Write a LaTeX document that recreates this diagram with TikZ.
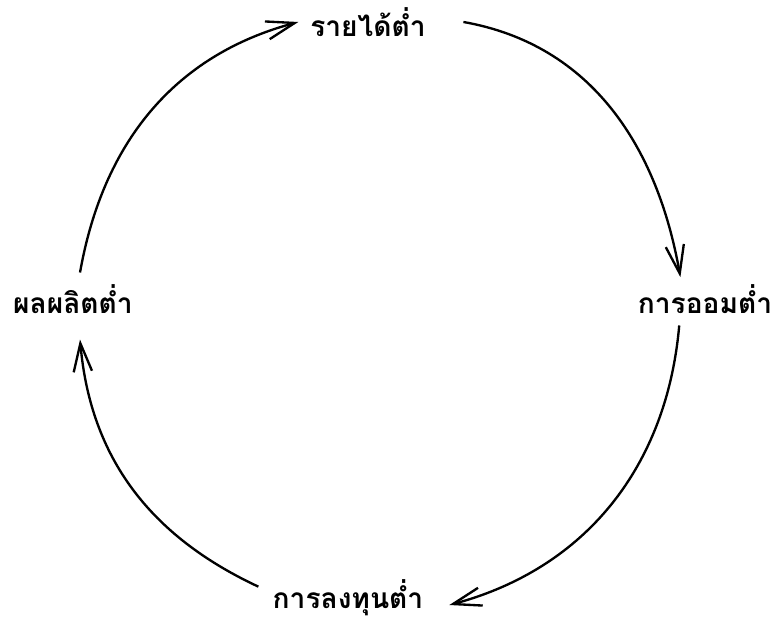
\documentclass[tikz,border=0pt]{standalone}
\usepackage{fontspec}
\newfontfamily\thaifont[Script=Thai]{Loma}
\usetikzlibrary{arrows.meta}
\begin{document}
\begin{tikzpicture}[x=0.03cm,y=0.03cm,
  lab/.style={font=\thaifont\bfseries\fontsize{24}{26}\selectfont,inner sep=0pt},
  arr/.style={-{Straight Barb[length=8.5mm,width=5.5mm]},line width=2pt}]
\useasboundingbox (0,0) rectangle (771,622);
\node[lab] (Inc) at (368,600) {รายได้ต่ำ};
\node[lab] (Sav) at (705,323) {การออมต่ำ};
\node[lab] (Inv) at (348,24) {การลงทุนต่ำ};
\node[lab] (Out) at (73,323) {ผลผลิตต่ำ};
\draw[arr] ([xshift=32]Inc.east) to[out=-10,in=100] ([xshift=-21,yshift=6]Sav.north);
\draw[arr] ([xshift=-22,yshift=-10]Sav.south) to[out=-95,in=15] ([xshift=22,yshift=-6]Inv.east);
\draw[arr] ([xshift=-12,yshift=-6]Inv.north west) to[out=155,in=-85] ([xshift=6,yshift=-22]Out.south);
\draw[arr] ([xshift=6,yshift=10]Out.north) to[out=80,in=195] ([xshift=-10]Inc.west);
\end{tikzpicture}
\end{document}
